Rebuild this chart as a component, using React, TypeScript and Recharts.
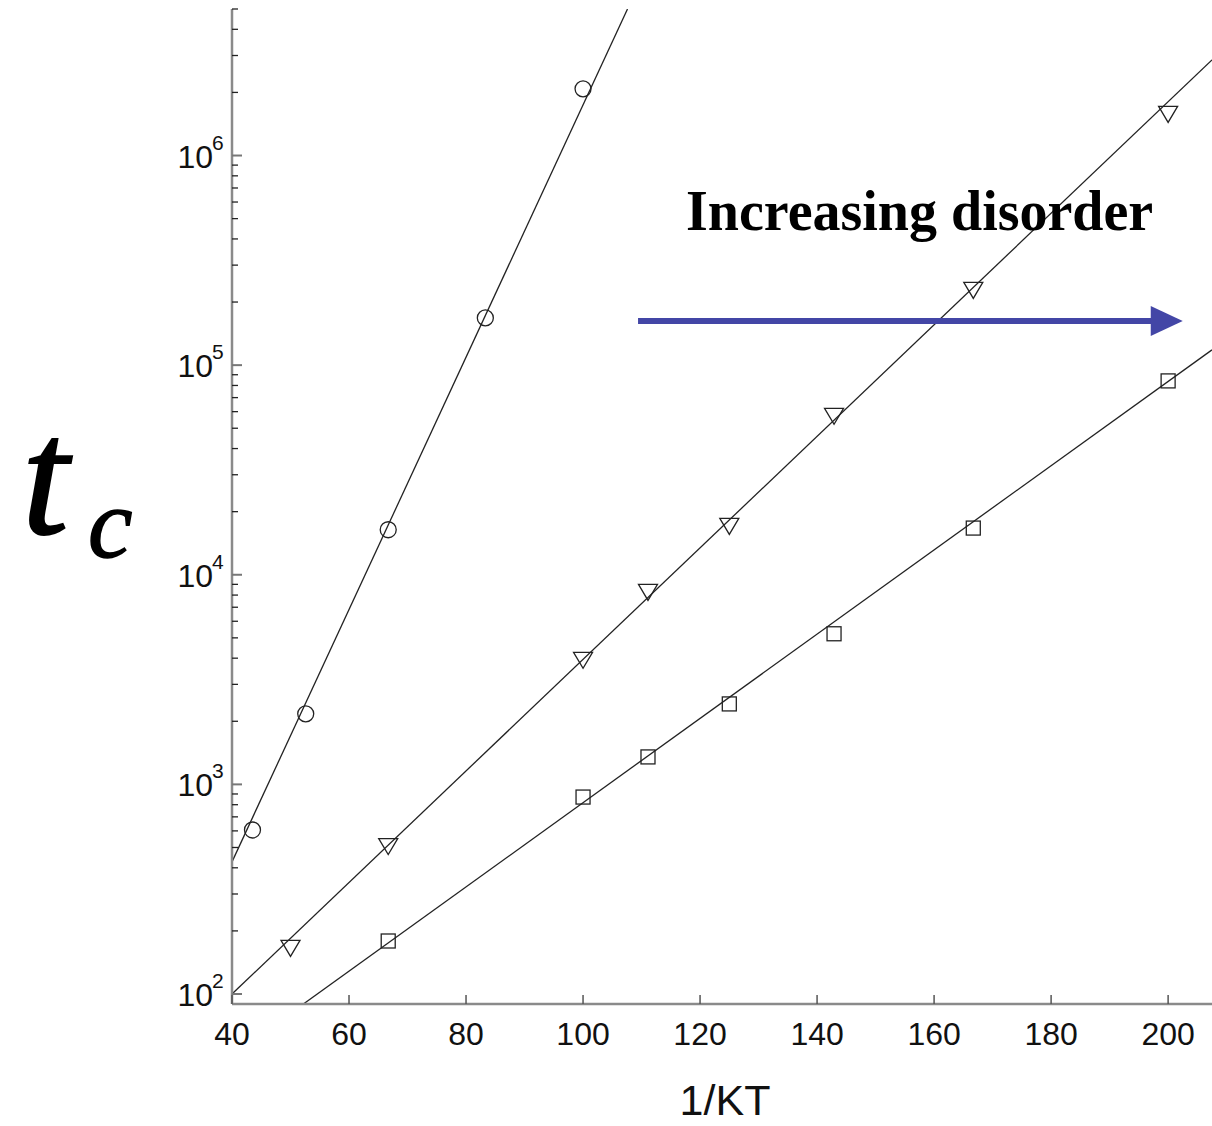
import React from 'react';
import { ComposedChart, XAxis, YAxis, Scatter, Line, ReferenceLine } from 'recharts';

// ---- data ----
const circleX = [43.5, 52.6, 66.7, 83.3, 100];
const circleY = [606, 2170, 16400, 168000, 2080000];
const triX = [50, 66.7, 100, 111.1, 125, 142.9, 166.7, 200];
const triY = [166, 508, 3930, 8280, 17100, 57300, 228600, 1580000];
const sqX = [66.7, 100, 111.1, 125, 142.9, 166.7, 200];
const sqY = [179, 870, 1352, 2420, 5230, 16700, 84100];

const circleFitX = [40, 107.6];
const circleFitY = [427, 5000000];
const triFitX = [40, 207.5];
const triFitY = [100, 2860000];
const sqFitX = [52.2, 207.5];
const sqFitY = [89.6, 118300];

const xTicks = [40, 60, 80, 100, 120, 140, 160, 180, 200];
const xDomain = [40, 207.5];
const yDomain = [89.6, 5000000];
const yMajor = [100, 1000, 10000, 100000, 1000000];
const yMinorMult = [2, 3, 4, 5, 6, 7, 8, 9];

const arrowX = [109.4, 202.5];
const arrowY = 162500;

const xLabel = '1/KT';
const annotation = 'Increasing disorder';

// ---- build ----
const zip = (xs: number[], ys: number[]) => xs.map((x, i) => ({ x, y: ys[i] }));
const circleData = zip(circleX, circleY);
const triData = zip(triX, triY);
const sqData = zip(sqX, sqY);
const circleFit = zip(circleFitX, circleFitY);
const triFit = zip(triFitX, triFitY);
const sqFit = zip(sqFitX, sqFitY);

const yTicks: number[] = [];
yMajor.forEach((m) => {
  yTicks.push(m);
  yMinorMult.forEach((k) => {
    const v = m * k;
    if (v <= yDomain[1] * 1.0001) yTicks.push(v);
  });
});

const SANS = '"Liberation Sans", Arial, Helvetica, sans-serif';
const SERIF = '"Liberation Serif", "Times New Roman", serif';

const XTickBottom = (props: any) => {
  const { x, y, payload } = props;
  return (
    <g>
      <line x1={x} y1={y} x2={x} y2={y - 9} stroke="#555" strokeWidth={1.5} />
      <text x={x} y={y + 41} textAnchor="middle" fontFamily={SANS} fontSize={32} fill="#111">
        {payload.value}
      </text>
    </g>
  );
};

const XTickTop = (props: any) => {
  const { x, y } = props;
  return <line x1={x} y1={y} x2={x} y2={y + 9} stroke="#555" strokeWidth={1.5} />;
};

const YTick = (props: any) => {
  const { x, y, payload } = props;
  const v = payload.value as number;
  const lg = Math.log10(v);
  const isMajor = Math.abs(lg - Math.round(lg)) < 1e-6;
  if (!isMajor) {
    return <line x1={x} y1={y} x2={x + 6} y2={y} stroke="#222" strokeWidth={1.3} />;
  }
  return (
    <g>
      <line x1={x} y1={y} x2={x + 10} y2={y} stroke="#777" strokeWidth={2} />
      <text x={x - 19} y={y + 12} textAnchor="end" fontFamily={SANS} fontSize={32} fill="#111">
        10
      </text>
      <text x={x - 20} y={y - 6} textAnchor="start" fontFamily={SANS} fontSize={21} fill="#111">
        {Math.round(lg)}
      </text>
    </g>
  );
};

const CircleShape = (p: any) => (
  <circle cx={p.cx} cy={p.cy} r={8} fill="none" stroke="#222" strokeWidth={1.3} />
);
const TriShape = (p: any) => (
  <polygon
    points={`${p.cx - 9.5},${p.cy - 7.5} ${p.cx + 9.5},${p.cy - 7.5} ${p.cx},${p.cy + 8.5}`}
    fill="none"
    stroke="#222"
    strokeWidth={1.3}
  />
);
const SqShape = (p: any) => (
  <rect x={p.cx - 7} y={p.cy - 7} width={14} height={14} fill="none" stroke="#222" strokeWidth={1.3} />
);

const ArrowShape = (p: any) => {
  const { x1, y1, x2 } = p;
  const head = 32;
  return (
    <g>
      <line x1={x1} y1={y1} x2={x2 - head + 2} y2={y1} stroke="#4346a6" strokeWidth={6} />
      <polygon points={`${x2},${y1} ${x2 - head},${y1 - 15} ${x2 - head},${y1 + 15}`} fill="#4346a6" />
    </g>
  );
};

export default function App() {
  return (
    <div
      style={{
        position: 'absolute',
        left: 0,
        top: 0,
        width: 1212,
        height: 1126,
        background: '#fff',
        overflow: 'hidden',
      }}
    >
      <ComposedChart width={1212} height={1126} margin={{ top: 9, right: 0, bottom: 0, left: 0 }}>
        <XAxis
          xAxisId={0}
          type="number"
          dataKey="x"
          domain={xDomain}
          ticks={xTicks}
          allowDataOverflow
          height={122}
          tickSize={0}
          tickMargin={0}
          tickLine={false}
          tick={<XTickBottom />}
          axisLine={{ stroke: '#8a8a8a', strokeWidth: 2.5 }}
          interval={0}
        />
        <XAxis
          xAxisId="top"
          orientation="top"
          type="number"
          dataKey="x"
          domain={xDomain}
          ticks={xTicks}
          allowDataOverflow
          height={0}
          tickSize={0}
          tickMargin={0}
          tickLine={false}
          tick={<XTickTop />}
          axisLine={{ stroke: '#333', strokeWidth: 2 }}
          interval={0}
        />
        <YAxis
          type="number"
          scale="log"
          domain={yDomain}
          ticks={yTicks}
          allowDataOverflow
          width={232}
          tickSize={0}
          tickMargin={0}
          tickLine={false}
          tick={<YTick />}
          axisLine={{ stroke: '#8a8a8a', strokeWidth: 2.5 }}
          interval={0}
        />
        <Line data={circleFit} dataKey="y" type="linear" stroke="#222" strokeWidth={1.3} dot={false} activeDot={false} isAnimationActive={false} />
        <Line data={triFit} dataKey="y" type="linear" stroke="#222" strokeWidth={1.3} dot={false} activeDot={false} isAnimationActive={false} />
        <Line data={sqFit} dataKey="y" type="linear" stroke="#222" strokeWidth={1.3} dot={false} activeDot={false} isAnimationActive={false} />
        <Scatter data={circleData} dataKey="y" shape={CircleShape} isAnimationActive={false} />
        <Scatter data={triData} dataKey="y" shape={TriShape} isAnimationActive={false} />
        <Scatter data={sqData} dataKey="y" shape={SqShape} isAnimationActive={false} />
        <ReferenceLine
          segment={[
            { x: arrowX[0], y: arrowY },
            { x: arrowX[1], y: arrowY },
          ]}
          shape={ArrowShape}
        />
      </ComposedChart>
      <svg
        width={1212}
        height={1126}
        style={{ position: 'absolute', left: 0, top: 0, pointerEvents: 'none' }}
      >
        <text x={686} y={230} fontFamily={SERIF} fontWeight="bold" fontSize={56} fill="#000">
          {annotation}
        </text>
        <text x={725} y={1115} textAnchor="middle" fontFamily={SANS} fontSize={43} fill="#111">
          {xLabel}
        </text>
        <text x={22} y={533} fontFamily={SERIF} fontStyle="italic" fontSize={168} fill="#000" stroke="#000" strokeWidth={2}>
          t
        </text>
        <text x={88} y={557} fontFamily={SERIF} fontStyle="italic" fontSize={100} fill="#000" stroke="#000" strokeWidth={1.5}>
          c
        </text>
      </svg>
    </div>
  );
}
